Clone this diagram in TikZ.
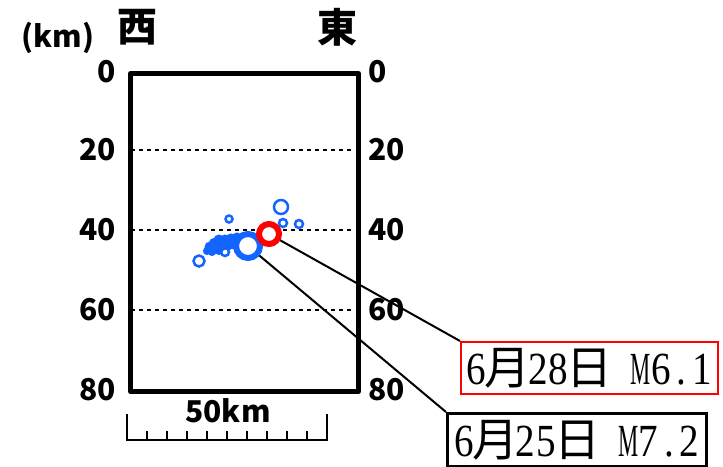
\documentclass[tikz,border=0pt]{standalone}
\usepackage{fontspec}
\newfontfamily\jp{Noto Sans CJK JP}
\newfontfamily\ser{Liberation Serif}[FakeStretch=0.85]
\definecolor{qblue}{RGB}{20,100,255}
\definecolor{qred}{RGB}{255,0,0}
\newcommand\hwc[1]{\makebox[20.5pt]{#1}}
\newcommand\fwc[1]{\makebox[41pt]{\jp #1}}
\newcommand\narrowM{\makebox[20.5pt]{\scalebox{0.58}[1]{M}}}
\tikzset{
  axlbl/.style={font=\jp\bfseries\fontsize{30}{32}\selectfont, inner sep=0pt},
  dirlbl/.style={font=\jp\bfseries\fontsize{40}{42}\selectfont, inner sep=0pt},
  grid/.style={line width=2pt, dash pattern=on 4pt off 4pt},
  frame/.style={line width=5pt, line join=round},
  small/.style={draw=qblue, line width=2.5pt, fill=white},
  blob/.style={fill=qblue, draw=qblue, line width=1pt},
  lead/.style={line width=2pt},
  evlbl/.style={font=\ser\fontsize{46}{48}\selectfont, inner sep=0pt, minimum height=52pt}
}
\begin{document}
\begin{tikzpicture}[x=1pt,y=-1pt]
\useasboundingbox (0,0) rectangle (723,466);
% grid lines
\foreach \y in {150,230,310} \draw[grid] (131,\y) -- (354,\y);
% frame
\node[draw, frame, minimum width=228pt, minimum height=318pt, inner sep=0pt, anchor=north west] (box) at (128,71) {};
% axis labels
\foreach \v/\y in {0/72,20/150,40/230,60/310,80/390} {
  \node[axlbl, anchor=east] (L\v) at (116,\y) {\v};
  \node[axlbl, anchor=west] (R\v) at (368,\y) {\v};
}
\node[axlbl] (km) at (58,38) {(km)};
\node[dirlbl] (west) at (137,27) {西};
\node[dirlbl] (east) at (337,27) {東};
% scale bar
\node[axlbl] (sc) at (228,411) {50km};
\coordinate (s0) at (127,440);
\coordinate (s1) at (327,440);
\draw[line width=2pt] (127,414) -- (s0) -- (s1) -- (327,414);
\foreach \i in {1,...,9} \draw[line width=2pt] (127+20*\i,440) -- (127+20*\i,431);
% event boxes
\node[evlbl, draw=qred, line width=2pt, anchor=north west, minimum width=257pt] (e28) at (460,341)
  {\hwc{6}\fwc{月}\hwc{2}\hwc{8}\fwc{日}\hwc{}\narrowM\hwc{6}\hwc{.}\hwc{1}};
\node[evlbl, draw=black, line width=3pt, anchor=north west, minimum width=259pt, minimum height=53pt] (e25) at (446,412)
  {\hwc{6}\fwc{月}\hwc{2}\hwc{5}\fwc{日}\hwc{}\narrowM\hwc{7}\hwc{.}\hwc{2}};
% leaders
\coordinate (cR) at (269,234);
\coordinate (cB) at (248,246);
\draw[lead] (cR) -- (e28.north west);
\draw[lead] (cB) -- (e25.north west);
% small events
\draw[small] (281,207) circle (7);
\draw[small] (283,223) circle (4);
\draw[small] (299,224) circle (4);
\draw[small] (229,219) circle (3.5);
\draw[small] (199,261) circle (5.5);
\draw[small] (225,252) circle (4);
\foreach \x/\y/\r in {210/247/5,214/243/4.5,219/240/5,225/240/5,231/239/5,237/238/5,243/237/4,
  215/249/4.5,221/246/5,228/245/5,234/244/5,240/243/4,207/251/3.5,212/252/3.5,219/251/3.5}
  \draw[blob] (\x,\y) circle (\r);
% main shocks
\draw[draw=qblue, line width=6pt, fill=white] (cB) circle (12);
\draw[draw=qred, line width=6pt, fill=white] (cR) circle (10);
\end{tikzpicture}
\end{document}
